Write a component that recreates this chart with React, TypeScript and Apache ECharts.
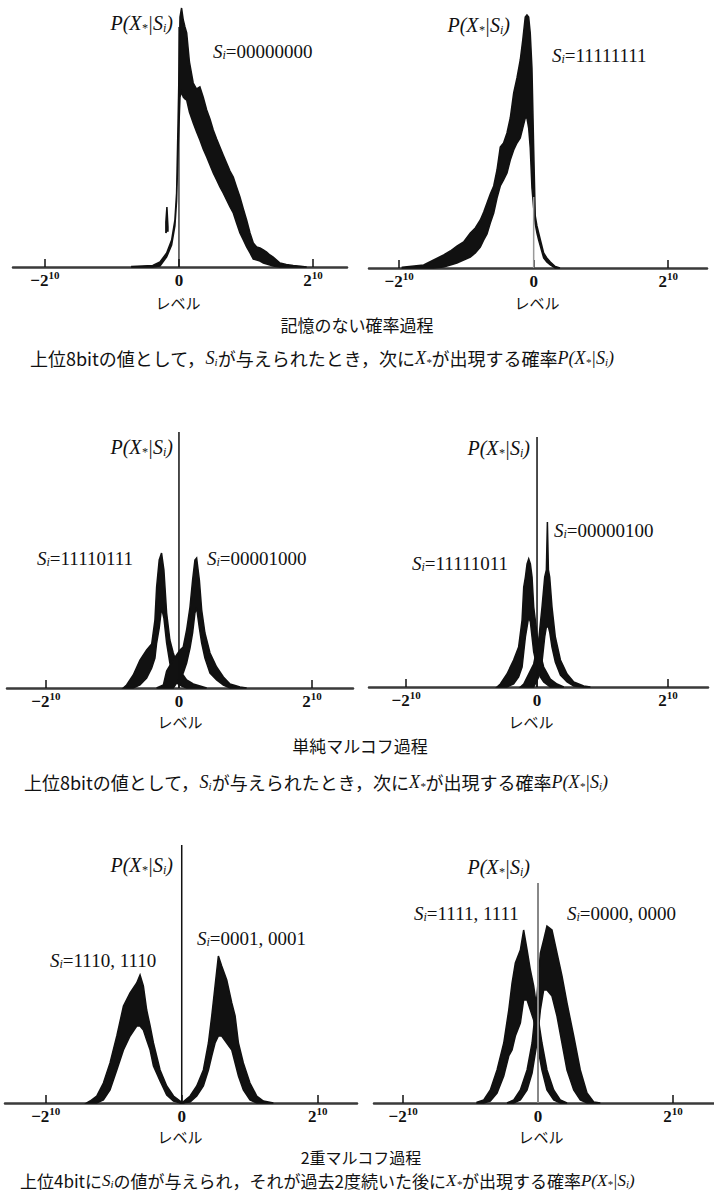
import React, { useEffect, useRef } from "react";
import * as echarts from "echarts";

// ---------- data (level units, probability in arbitrary units) ----------
const TICKS = [-1024, 0, 1024];

// Row 1: memoryless process
const m0X = [-360, -200, -145, -94, -56, -31, -18, -6, 8, 20, 33, 46, 59, 80, 109, 135, 160, 185, 212, 237, 262, 288, 313, 338, 364, 390, 415, 440, 466, 492, 517, 543, 568, 594, 619, 645, 670, 695, 720, 772, 820, 873, 930, 976];
const m0Up = [0.5, 1.5, 5, 14, 27, 47, 74, 150, 250, 259, 247, 240, 234, 205, 184, 178, 180, 170, 157, 148, 137, 128, 120, 112, 104, 96, 90, 80, 70, 58, 47, 34, 24, 20, 19, 17, 15, 12, 10, 4, 2.5, 1.5, 0.8, 0];
const m0Lo = [0, 0, 1, 10, 22, 41, 66, 120, 170, 175, 170, 168, 167, 155, 144, 135, 127, 118, 110, 102, 94, 87, 80, 74, 67, 60, 54, 44, 34, 27, 20, 14, 8, 7, 6, 4, 3, 2, 1, 0, 0, 0, 0, 0];
const m0SpotX = [-100, -92, -84];
const m0SpotUp = [45, 60, 40];
const m0SpotLo = [34, 36, 36];

const m1X = [-1000, -837, -761, -685, -634, -584, -533, -482, -444, -406, -380, -355, -330, -304, -279, -254, -229, -203, -178, -152, -127, -102, -83, -64, -51, -38, -26, -13, 0, 12, 25, 38, 57, 76, 100, 127, 164, 200];
const m1Up = [0.7, 3, 8, 13, 17, 22, 26, 35, 40, 48, 56, 65, 74, 82, 98, 121, 125, 135, 150, 175, 190, 208, 228, 251, 253, 251, 235, 200, 120, 52, 42, 35, 25, 15, 10, 6, 1.5, 0];
const m1Lo = [0, 0, 0, 1, 3, 5, 8, 11, 15, 21, 28, 34, 45, 55, 70, 82, 88, 95, 108, 118, 125, 130, 140, 150, 150, 140, 120, 80, 60, 44, 35, 28, 19, 10, 6, 3, 0, 0];

// Row 2: simple Markov process
const s1aX = [-429, -403, -352, -300, -249, -210, -185, -172, -152, -134, -116, -95, -70, -44, -18, 21, 59, 110, 162, 213];
const s1aUp = [0, 3, 13, 28, 38, 44, 68, 101, 128, 135, 118, 75, 48, 35, 25, 15, 8, 4, 2, 0];
const s1aLo = [0, 0, 0, 3, 10, 20, 30, 45, 60, 80, 70, 45, 25, 12, 5, 2, 0, 0, 0, 0];
const s1bX = [-172, -120, -95, -44, 8, 33, 59, 85, 105, 123, 136, 157, 175, 200, 239, 290, 342, 393, 470, 521];
const s1bUp = [0, 3, 17, 28, 38, 41, 58, 81, 108, 128, 130, 108, 78, 55, 35, 21, 11, 4, 1, 0];
const s1bLo = [0, 0, 0, 0, 10, 15, 25, 40, 55, 75, 80, 60, 45, 30, 15, 8, 3, 0, 0, 0];

const s2aX = [-313, -287, -235, -183, -144, -117, -104, -91, -78, -65, -52, -39, -26, 0, 26, 52, 104, 156, 209];
const s2aUp = [0, 3, 13, 27, 40, 67, 100, 110, 123, 128, 123, 110, 80, 53, 33, 20, 8, 3, 0];
const s2aLo = [0, 0, 0, 3, 10, 20, 35, 50, 60, 70, 65, 50, 35, 20, 10, 5, 0, 0, 0];
const s2bX = [-130, -104, -26, 13, 39, 60, 73, 81, 89, 99, 117, 143, 183, 235, 287, 365, 417];
const s2bUp = [0, 3, 23, 47, 80, 110, 117, 165, 117, 110, 80, 50, 27, 13, 5, 1, 0];
const s2bLo = [0, 0, 0, 10, 25, 50, 60, 60, 60, 55, 40, 25, 12, 5, 1, 0, 0];

// Row 3: second-order Markov process
const d1aX = [-715, -690, -640, -590, -540, -489, -439, -389, -339, -314, -289, -264, -238, -213, -163, -113, -62, -12, 8];
const d1aUp = [0, 2, 7, 20, 40, 67, 97, 110, 120, 128, 117, 93, 77, 60, 33, 17, 7, 2, 0];
const d1aLo = [0, 0, 0, 3, 13, 33, 53, 67, 77, 77, 73, 63, 53, 37, 22, 8, 2, 0, 0];
const d1bX = [0, 63, 113, 163, 201, 226, 251, 276, 301, 339, 377, 402, 427, 464, 514, 565, 615, 690];
const d1bUp = [0, 7, 17, 33, 60, 87, 117, 147, 137, 123, 100, 87, 60, 40, 20, 7, 2, 0];
const d1bLo = [0, 1, 7, 17, 33, 47, 60, 67, 67, 60, 53, 40, 27, 13, 3, 0, 0, 0];

const d2aX = [-463, -412, -362, -311, -260, -222, -197, -172, -134, -109, -83, -58, -33, -8, 30, 68, 119, 169, 220];
const d2aUp = [0.7, 3, 13, 33, 60, 93, 120, 140, 153, 173, 153, 133, 117, 93, 60, 33, 13, 3, 0];
const d2aLo = [0, 0, 2, 10, 27, 47, 53, 67, 80, 103, 103, 93, 83, 60, 33, 13, 3, 0, 0];
const d2bX = [-235, -184, -134, -83, -45, -8, 18, 43, 68, 106, 144, 182, 220, 271, 321, 372, 423, 473];
const d2bUp = [0, 3, 13, 33, 60, 107, 150, 163, 177, 173, 150, 127, 100, 67, 33, 10, 1, 0];
const d2bLo = [0, 0, 3, 13, 30, 60, 93, 113, 113, 107, 87, 60, 33, 13, 3, 0, 0, 0];

// height of the P(X|S) axis line drawn at level 0 in each panel
const vLineH = [240, 71, 256, 250, 258, 220];

// ---------- layout / style ----------
const SERIF = '"Liberation Serif", "DejaVu Serif", serif';
const JP = '"Noto Sans CJK JP", "Noto Sans CJK SC", sans-serif';
const INK = "#111";

type Band = { x: number[]; up: number[]; lo: number[] };
const band = (x: number[], up: number[], lo: number[]): Band => ({ x, up, lo });

const panels = [
  { left: 13, top: 5, width: 334, height: 262, xMin: -1268, xMax: 1284, bands: [band(m0X, m0Up, m0Lo), band(m0SpotX, m0SpotUp, m0SpotLo)], vColor: INK, vWidth: 1.2 },
  { left: 369, top: 10, width: 338, height: 258, xMin: -1253, xMax: 1319, bands: [band(m1X, m1Up, m1Lo)], vColor: "#999", vWidth: 1.5 },
  { left: 7, top: 432, width: 346, height: 256, xMin: -1324, xMax: 1340, bands: [band(s1aX, s1aUp, s1aLo), band(s1bX, s1bUp, s1bLo)], vColor: INK, vWidth: 1.5 },
  { left: 369, top: 437, width: 339, height: 250, xMin: -1314, xMax: 1337, bands: [band(s2aX, s2aUp, s2aLo), band(s2bX, s2bUp, s2bLo)], vColor: INK, vWidth: 1.5 },
  { left: 5, top: 845, width: 352, height: 258, xMin: -1331, xMax: 1320, bands: [band(d1aX, d1aUp, d1aLo), band(d1bX, d1bUp, d1bLo)], vColor: INK, vWidth: 1.5 },
  { left: 374, top: 883, width: 340, height: 220, xMin: -1245, xMax: 1336, bands: [band(d2aX, d2aUp, d2aLo), band(d2bX, d2bUp, d2bLo)], vColor: "#888", vWidth: 2 },
];

const mkRich = (size: number) => ({
  i: { fontFamily: SERIF, fontStyle: "italic", fontSize: size, lineHeight: size + 1, fill: INK },
  s: { fontFamily: SERIF, fontStyle: "italic", fontSize: Math.round(size * 0.62), lineHeight: Math.round(size * 0.62), verticalAlign: "bottom", fill: INK },
  n: { fontFamily: SERIF, fontSize: size, lineHeight: size + 1, fill: INK },
  j: { fontFamily: JP, fontSize: size, lineHeight: size + 1, fill: INK },
});

const PLABEL = "{i|P(X}{s|*}{i||S}{s|i}{i|)}";
const sLabel = (v: string) => `{i|S}{s|i}{n|=${v}}`;

const txt = (x: number, y: number, text: string, size: number, align = "left") => ({
  type: "text",
  x,
  y,
  silent: true,
  style: { text, rich: mkRich(size), align, verticalAlign: "middle", fill: INK },
});

const CAP1 = "{j|上位8bitの値として，}{i|S}{s|i}{j|が与えられたとき，次に}{i|X}{s|*}{j|が出現する確率}" + PLABEL;
const CAP3 = "{j|上位4bitに}{i|S}{s|i}{j|の値が与えられ，それが過去2度続いた後に}{i|X}{s|*}{j|が出現する確率}" + PLABEL;

const texts = [
  // row 1
  txt(173, 23, PLABEL, 20, "right"),
  txt(213, 51, sLabel("00000000"), 19),
  txt(510, 25, PLABEL, 20, "right"),
  txt(552, 55, sLabel("11111111"), 19),
  txt(178, 302, "{j|レベル}", 15, "center"),
  txt(537, 302, "{j|レベル}", 15, "center"),
  txt(357, 324, "{j|記憶のない確率過程}", 17, "center"),
  txt(30, 358, CAP1, 18),
  // row 2
  txt(173, 447, PLABEL, 20, "right"),
  txt(37, 558, sLabel("11110111"), 19),
  txt(207, 558, sLabel("00001000"), 19),
  txt(530, 448, PLABEL, 20, "right"),
  txt(412, 563, sLabel("11111011"), 19),
  txt(554, 530, sLabel("00000100"), 19),
  txt(180, 721, "{j|レベル}", 15, "center"),
  txt(531, 721, "{j|レベル}", 15, "center"),
  txt(360, 745, "{j|単純マルコフ過程}", 17, "center"),
  txt(24, 782, CAP1, 18),
  // row 3
  txt(173, 865, PLABEL, 20, "right"),
  txt(50, 960, sLabel("1110, 1110"), 19),
  txt(197, 938, sLabel("0001, 0001"), 19),
  txt(530, 867, PLABEL, 20, "right"),
  txt(414, 913, sLabel("1111, 1111"), 19),
  txt(567, 913, sLabel("0000, 0000"), 19),
  txt(180, 1136, "{j|レベル}", 15, "center"),
  txt(541, 1136, "{j|レベル}", 15, "center"),
  txt(361, 1157, "{j|2重マルコフ過程}", 16, "center"),
  txt(20, 1180, CAP3, 17),
];

function buildOption() {
  const grid: any[] = [];
  const xAxis: any[] = [];
  const yAxis: any[] = [];
  const series: any[] = [];
  panels.forEach((p, k) => {
    grid.push({ left: p.left, top: p.top, width: p.width, height: p.height, containLabel: false });
    xAxis.push({
      type: "value",
      gridIndex: k,
      min: p.xMin,
      max: p.xMax,
      splitLine: { show: false },
      axisLine: { show: true, onZero: false, lineStyle: { color: "#3a3a3a", width: 2.5 } },
      axisTick: { show: true, inside: true, length: 8, customValues: TICKS, lineStyle: { color: INK, width: 1.5 } },
      axisLabel: {
        show: true,
        margin: 2,
        customValues: TICKS,
        formatter: (v: number) => (v === 0 ? "{b|0}" : v < 0 ? "{b|−2}{s|10}" : "{b|2}{s|10}"),
        rich: {
          b: { fontFamily: SERIF, fontSize: 17, fontWeight: "bold", lineHeight: 20, color: INK, verticalAlign: "bottom" },
          s: { fontFamily: SERIF, fontSize: 11, fontWeight: "bold", lineHeight: 11, color: INK, verticalAlign: "top" },
        },
      },
    });
    yAxis.push({ type: "value", gridIndex: k, min: 0, max: p.height, show: false });
    const bands = p.bands;
    series.push({
      type: "custom",
      xAxisIndex: k,
      yAxisIndex: k,
      silent: true,
      clip: false,
      data: bands.map((b) => [b.x[0], 0]),
      renderItem: (params: any, api: any) => {
        const b = bands[params.dataIndex];
        const pts: number[][] = [];
        for (let i = 0; i < b.x.length; i++) pts.push(api.coord([b.x[i], b.up[i]]));
        for (let i = b.x.length - 1; i >= 0; i--) pts.push(api.coord([b.x[i], b.lo[i]]));
        return { type: "polygon", shape: { points: pts }, style: { fill: INK, stroke: INK, lineWidth: 1.5 } };
      },
    });
    series.push({
      type: "custom",
      xAxisIndex: k,
      yAxisIndex: k,
      silent: true,
      clip: false,
      data: [[0, vLineH[k]]],
      renderItem: (_params: any, api: any) => {
        const a = api.coord([0, 0]);
        const b = api.coord([api.value(0), api.value(1)]);
        return { type: "line", shape: { x1: a[0], y1: a[1], x2: b[0], y2: b[1] }, style: { stroke: p.vColor, lineWidth: p.vWidth } };
      },
    });
  });
  return {
    animation: false,
    backgroundColor: "#ffffff",
    grid,
    xAxis,
    yAxis,
    series,
    graphic: texts,
  };
}

export default function App() {
  const ref = useRef<HTMLDivElement>(null);
  useEffect(() => {
    if (!ref.current) return;
    const chart = echarts.init(ref.current, undefined, { renderer: "svg" });
    chart.setOption(buildOption() as any);
    return () => chart.dispose();
  }, []);
  return (
    <div
      ref={ref}
      style={{ position: "absolute", left: 0, top: 0, width: 714, height: 1193, background: "#fff" }}
    />
  );
}
